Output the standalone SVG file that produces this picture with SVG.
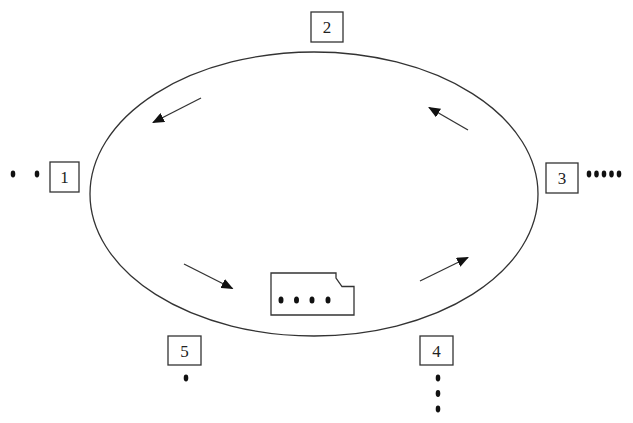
<svg xmlns="http://www.w3.org/2000/svg" width="633" height="423" viewBox="0 0 633 423">
<style>
.ln{fill:none;stroke:#333;stroke-width:1.3}
.bx{fill:#fff;stroke:#333;stroke-width:1.3}
.lb{font-family:"Liberation Serif","Times New Roman",serif;font-size:17px;fill:#222;text-anchor:middle}
.dt{fill:#111}
</style>
<defs>
<marker id="ah" viewBox="0 0 12 10" refX="11" refY="5" markerWidth="12" markerHeight="10" markerUnits="userSpaceOnUse" orient="auto">
<path d="M0,0 L12,5 L0,10 Z" fill="#111"/>
</marker>
</defs>
<rect width="633" height="423" fill="#fff"/>
<g id="ring">
<ellipse class="ln" cx="314" cy="194" rx="224" ry="142"/>
</g>
<g id="connectors">
<line class="ln" x1="201" y1="98" x2="153" y2="122.5" marker-end="url(#ah)"/>
<line class="ln" x1="468" y1="130" x2="429" y2="107.5" marker-end="url(#ah)"/>
<line class="ln" x1="184" y1="264" x2="232.5" y2="288.5" marker-end="url(#ah)"/>
<line class="ln" x1="420" y1="281" x2="468" y2="257.5" marker-end="url(#ah)"/>
</g>
<g id="node1">
<rect class="bx" x="50" y="162" width="29" height="30"/>
<text class="lb" x="64.5" y="183">1</text>
<ellipse class="dt" cx="13" cy="174" rx="2.3" ry="3.4"/>
<ellipse class="dt" cx="37" cy="174" rx="2.3" ry="3.4"/>
</g>
<g id="node2">
<rect class="bx" x="311" y="12" width="32" height="30"/>
<text class="lb" x="327" y="33">2</text>
</g>
<g id="node3">
<rect class="bx" x="546" y="163" width="32" height="30"/>
<text class="lb" x="562" y="184">3</text>
<ellipse class="dt" cx="589" cy="174" rx="2.3" ry="3.4"/>
<ellipse class="dt" cx="596.5" cy="174" rx="2.3" ry="3.4"/>
<ellipse class="dt" cx="604" cy="174" rx="2.3" ry="3.4"/>
<ellipse class="dt" cx="611.5" cy="174" rx="2.3" ry="3.4"/>
<ellipse class="dt" cx="619" cy="174" rx="2.3" ry="3.4"/>
</g>
<g id="node4">
<rect class="bx" x="420" y="336" width="33" height="29"/>
<text class="lb" x="436.5" y="356.5">4</text>
<ellipse class="dt" cx="438" cy="378" rx="2.3" ry="3.4"/>
<ellipse class="dt" cx="438" cy="393.5" rx="2.3" ry="3.4"/>
<ellipse class="dt" cx="438" cy="409" rx="2.3" ry="3.4"/>
</g>
<g id="node5">
<rect class="bx" x="168" y="336" width="33" height="29"/>
<text class="lb" x="184.5" y="356.5">5</text>
<ellipse class="dt" cx="186" cy="378" rx="2.3" ry="3.4"/>
</g>
<g id="card">
<path class="bx" d="M271,273 L336,273 L336,278 L342,286.5 L354,286.5 L354,315 L271,315 Z"/>
<ellipse class="dt" cx="281" cy="300" rx="2.5" ry="3.6"/>
<ellipse class="dt" cx="296.5" cy="300" rx="2.5" ry="3.6"/>
<ellipse class="dt" cx="312" cy="300" rx="2.5" ry="3.6"/>
<ellipse class="dt" cx="328" cy="300" rx="2.5" ry="3.6"/>
</g>
</svg>
